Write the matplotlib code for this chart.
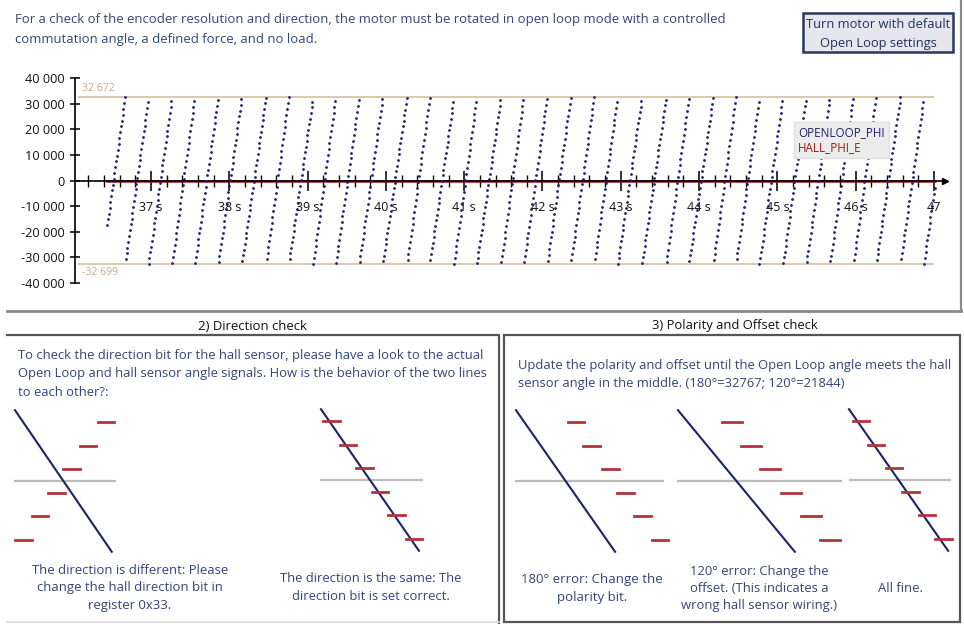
import numpy as np
import matplotlib.pyplot as plt
from matplotlib.lines import Line2D
from matplotlib.patches import Rectangle
from matplotlib.ticker import FuncFormatter, MultipleLocator

W, H = 964, 624
plt.rcParams['font.family'] = ['Open Sans', 'DejaVu Sans']

NAVY = '#1d2366'
HALL_RED = '#9b1c1c'
DASH_RED = '#b0343a'
TEXT_BLUE = '#33467a'
LIMIT_TAN = '#d8c5ab'
GREY = '#bdbdbd'

# ---- top chart: OPENLOOP_PHI sawtooth + HALL_PHI_E (flat)
OL_MAX = 32672
OL_MIN = -32699
SIGNAL_START = 36.44
SIGNAL_END = 47.01
SAMPLE_DT = 0.0104
# times (s) where OPENLOOP_PHI wraps from max back to min
WRAP_TIMES = [36.67, 36.97, 37.27, 37.56, 37.86, 38.16, 38.47, 38.76, 39.07,
              39.36, 39.66, 39.96, 40.27, 40.56, 40.87, 41.16, 41.47, 41.76,
              42.06, 42.36, 42.66, 42.96, 43.27, 43.58, 43.87, 44.18, 44.47,
              44.77, 45.07, 45.37, 45.67, 45.97, 46.26, 46.57, 46.87]
HALL_PHI_E = 0
T_LEFT, T_RIGHT = 36.03, 47.14
X_LABELS = [37, 38, 39, 40, 41, 42, 43, 44, 45, 46, 47]
Y_TICKS = [-40000, -30000, -20000, -10000, 0, 10000, 20000, 30000, 40000]

# ---- schematic diagrams (units: one hall step = 2)
HALL_LEVELS = [5, 3, 1, -1, -3, -5]
DIFF_HALL_X = [7.7, 6.2, 4.8, 3.5, 2.1, 0.7]
SAME_HALL_X = [0.9, 2.3, 3.7, 5.0, 6.4, 7.9]
ERR180_HALL_X = [5.1, 6.4, 8.0, 9.3, 10.7, 12.2]
ERR120_HALL_X = [4.6, 6.2, 7.8, 9.6, 11.3, 12.9]
FINE_HALL_X = [1.0, 2.3, 3.8, 5.2, 6.6, 8.0]

fig = plt.figure(figsize=(W / 100, H / 100), dpi=100)
bg = fig.add_axes([0, 0, 1, 1])
bg.set_xlim(0, W)
bg.set_ylim(H, 0)
bg.axis('off')
renderer = fig.canvas.get_renderer()


def px_axes(x0, y0, w, h):
    return fig.add_axes([x0 / W, 1 - (y0 + h) / H, w / W, h / H])


def text_block(x, y0, lines, dy, width, **kw):
    # fit the first line to the measured width, reuse the size for the rest
    first = bg.text(x, y0, lines[0], va='center', **kw)
    w = first.get_window_extent(renderer).width
    size = first.get_fontsize() * width / w
    first.set_fontsize(size)
    for i, s in enumerate(lines[1:], 1):
        bg.text(x, y0 + i * dy, s, va='center', fontsize=size, **kw)
    return size


# ---- header
text_block(15, 20, ["For a check of the encoder resolution and direction, the motor must be rotated in open loop mode with a controlled",
                    "commutation angle, a defined force, and no load."], 19, 704, color=TEXT_BLUE, ha='left')
bg.add_patch(Rectangle((803, 13), 150, 39, facecolor='#e6e7ee', edgecolor='#28395e', lw=1.8))
text_block(878, 25, ["Turn motor with default", "Open Loop settings"], 18, 144, color='#22305a', ha='center')

# panel borders
bg.plot([961, 961], [0, 311], color='#8a8a8a', lw=1.6)
bg.plot([7, 961], [311, 311], color='#8a8a8a', lw=2)
bg.plot([7, 499, 499], [335, 335, 624], color='#555555', lw=1.6)
bg.plot([7, 499], [622, 622], color='#d8d8d8', lw=1.2)
bg.add_patch(Rectangle((504, 335), 456, 287, facecolor='none', edgecolor='#555555', lw=1.6))

# ---- chart
ax = px_axes(75, 78, 870, 205)
ax.set_facecolor('none')

wraps = np.array(WRAP_TIMES)
period = np.diff(wraps).mean()
t = np.arange(SIGNAL_START, SIGNAL_END, SAMPLE_DT)
idx = np.searchsorted(wraps, t)
prev_w = np.where(idx > 0, wraps[np.clip(idx - 1, 0, None)], wraps[0] - period)
next_w = np.where(idx < len(wraps), wraps[np.clip(idx, None, len(wraps) - 1)], wraps[-1] + period)
openloop_phi = OL_MIN + (t - prev_w) / (next_w - prev_w) * (OL_MAX - OL_MIN)
hall_phi = np.full_like(t, HALL_PHI_E)

ax.plot(t, openloop_phi, linestyle='none', marker='o', ms=2.0, mew=0, color=NAVY, zorder=3)
ax.plot(t, hall_phi, color=HALL_RED, lw=1.8, zorder=2)

ax.hlines([OL_MAX, OL_MIN], 36.07, 47.0, color=LIMIT_TAN, lw=1.3, zorder=1)
ax.text(36.12, OL_MAX + 900, "32 672", color='#c8aa85', fontsize=7.6, va='bottom')
ax.text(36.12, OL_MIN - 900, "-32 699", color='#c8aa85', fontsize=7.6, va='top')

ax.set_xlim(T_LEFT, T_RIGHT)
ax.set_ylim(-40000, 40000)
for s in ['top', 'right']:
    ax.spines[s].set_visible(False)
ax.spines['bottom'].set_position(('data', 0))
ax.spines['bottom'].set_color('black')
ax.spines['bottom'].set_linewidth(1.2)
ax.spines['left'].set_linewidth(1.2)
ax.plot(T_RIGHT, 0, marker='>', color='black', ms=5, clip_on=False, zorder=4)

ax.set_xticks(X_LABELS)
ax.set_xticklabels([f"{v} s" for v in X_LABELS[:-1]] + [str(X_LABELS[-1])])
ax.xaxis.set_minor_locator(MultipleLocator(0.2))
ax.tick_params(axis='x', which='major', direction='inout', length=14, width=1.2,
               labelsize=9, pad=8, colors='#111111')
ax.tick_params(axis='x', which='minor', direction='inout', length=8, width=1.0)
ax.set_yticks(Y_TICKS)
ax.yaxis.set_major_formatter(FuncFormatter(lambda v, p: f"{int(v):,}".replace(",", " ")))
ax.tick_params(axis='y', direction='inout', length=7, width=1.2, labelsize=9.2,
               pad=4, colors='#111111')

legend_handles = [Line2D([], [], color=NAVY, ls='none'), Line2D([], [], color=HALL_RED, ls='none')]
leg = ax.legend(legend_handles, ["OPENLOOP_PHI", "HALL_PHI_E"], loc='upper left',
                bbox_to_anchor=(0.82, 0.815), handlelength=0, handletextpad=0,
                labelcolor='linecolor', fontsize=8.4, frameon=True, fancybox=False,
                facecolor='#ececec', edgecolor='#e0e0e0', framealpha=1,
                borderpad=0.35, labelspacing=0.2)

# ---- bottom panels
text_block(252, 326, ["2) Direction check"], 18, 109, color='#111111', ha='center')
text_block(735, 326, ["3) Polarity and Offset check"], 18, 166, color='#111111', ha='center')

text_block(18, 355, ["To check the direction bit for the hall sensor, please have a look to the actual",
                     "Open Loop and hall sensor angle signals. How is the behavior of the two lines",
                     "to each other?:"], 18.5, 463, color=TEXT_BLUE, ha='left')
text_block(518, 365, ["Update the polarity and offset until the Open Loop angle meets the hall",
                      "sensor angle in the middle. (180°=32767; 120°=21844)"], 18, 433, color=TEXT_BLUE, ha='left')

cap = text_block(130, 570, ["The direction is different: Please", "change the hall direction bit in",
                            "register 0x33."], 18, 196, color=TEXT_BLUE, ha='center')
text_block(371, 579, ["The direction is the same: The", "direction bit is set correct."], 18, 182,
           color=TEXT_BLUE, ha='center')
text_block(592, 580, ["180° error: Change the", "polarity bit."], 18, 141, color=TEXT_BLUE, ha='center')
text_block(759, 571, ["120° error: Change the", "offset. (This indicates a",
                      "wrong hall sensor wiring.)"], 17.5, 138, color=TEXT_BLUE, ha='center')
bg.text(900, 588, "All fine.", color=TEXT_BLUE, ha='center', va='center', fontsize=cap)

UNIT = 11.8


def diagram(x_origin, y_center, ol_span, hall_x, dash_half, zero_span):
    xmax = max(ol_span, max(hall_x) + dash_half, zero_span[1]) + 0.3
    a = px_axes(x_origin - 4, y_center - 80, xmax * UNIT + 4, 160)
    a.set_xlim(-4 / UNIT, xmax)
    a.set_ylim(-80 / UNIT, 80 / UNIT)
    a.axis('off')
    a.plot(zero_span, [0, 0], color=GREY, lw=1.6)
    a.plot([0, ol_span], [6, -6], color=NAVY, lw=1.5)
    for hx, lv in zip(hall_x, HALL_LEVELS):
        a.plot([hx - dash_half, hx + dash_half], [lv, lv], color=DASH_RED, lw=2)


diagram(15, 481, 8.2, DIFF_HALL_X, 0.7, (0, 8.5))
diagram(321, 480, 8.3, SAME_HALL_X, 0.7, (0, 8.6))
diagram(516, 481, 8.4, ERR180_HALL_X, 0.7, (0, 12.5))
diagram(678, 481, 9.9, ERR120_HALL_X, 0.85, (0, 13.8))
diagram(849, 480, 8.4, FINE_HALL_X, 0.7, (0.1, 8.6))

fig.savefig("out.png", dpi=100)
